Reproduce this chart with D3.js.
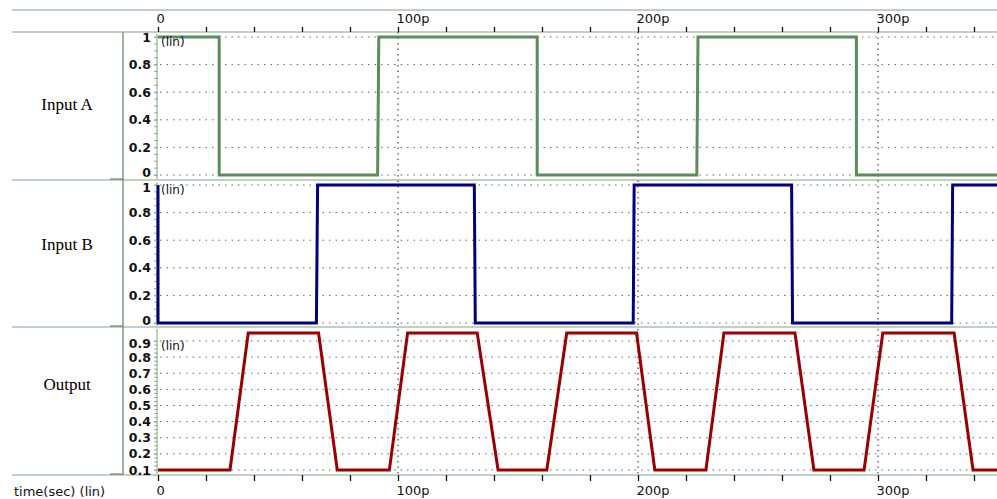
<!DOCTYPE html>
<html>
<head>
<meta charset="utf-8">
<script src="https://cdn.jsdelivr.net/npm/d3@7"></script>
<style>
  body { margin: 0; background: #fff; }
  svg { display: block; }
  .tick text { font-family: "DejaVu Sans", sans-serif; }
</style>
</head>
<body>
<div id="chart"></div>
<script>
// waveform data, time in ps
var inputA = [[0,1],[25.5,1],[25.5,0],[91.5,0],[92,1],[158,1],[158,0],[224.5,0],[225,1],[291,1],[291,0],[350,0]];
var inputB = [[0,1],[0,0],[66,0],[66.5,1],[131.8,1],[132.2,0],[198,0],[198.4,1],[264,1],[264.4,0],[330.7,0],[331.1,1],[350,1]];
var output = [[0,0.1],[30,0.1],[37.6,0.95],[66.9,0.95],[74.7,0.1],[96.4,0.1],[104,0.95],[133,0.95],[141.7,0.1],
              [162,0.1],[170.3,0.95],[199.4,0.95],[207,0.1],[228.3,0.1],[235.8,0.95],[265.4,0.95],[273.3,0.1],
              [294.2,0.1],[302,0.95],[331.7,0.95],[339.6,0.1],[350,0.1]];

var panelNames = ["Input A", "Input B", "Output"];
var ticksAB = [0, 0.2, 0.4, 0.6, 0.8, 1];
var ticksC = [0.1, 0.2, 0.3, 0.4, 0.5, 0.6, 0.7, 0.8, 0.9];
var timeTicks = [0, 100, 200, 300];
var timeLabels = ["0", "100p", "200p", "300p"];

var width = 997, height = 499;
var frame = "#a9c5a9";

var svg = d3.select("#chart").append("svg")
  .attr("width", width)
  .attr("height", height);

var x = d3.scaleLinear().domain([0, 350]).range([158, 998]);

// one entry per panel: data, scale, ticks, colour
var panels = [
  { name: panelNames[0], data: inputA, y: d3.scaleLinear().domain([0, 1]).range([175, 37]), ticks: ticksAB, minor: 0.05, top: 32, bottom: 180, labelY: 105, color: "#5b8c5b", fmt: d3.format("") },
  { name: panelNames[1], data: inputB, y: d3.scaleLinear().domain([0, 1]).range([323, 185]), ticks: ticksAB, minor: 0.05, top: 180, bottom: 327, labelY: 245, color: "#000080", fmt: d3.format("") },
  { name: panelNames[2], data: output, y: d3.scaleLinear().domain([0.1, 0.9]).range([470, 341]), ticks: ticksC, minor: 0.025, top: 327, bottom: 475, labelY: 385, color: "#9b0000", fmt: d3.format(".1f") }
];

// outer frame lines
[10, 32, 180, 327, 475].forEach(function(yy) {
  svg.append("line").attr("x1", 12).attr("x2", width).attr("y1", yy).attr("y2", yy)
    .attr("stroke", frame).attr("stroke-width", 1.5);
});

// vertical time grid
svg.append("g").selectAll("line")
  .data(timeTicks.slice(1))
  .enter().append("line")
  .attr("x1", function(d) { return x(d); })
  .attr("x2", function(d) { return x(d); })
  .attr("y1", 32).attr("y2", 475)
  .attr("stroke", "#222").attr("stroke-width", 1)
  .attr("stroke-dasharray", "1.5,4");

var defs = svg.append("defs");

panels.forEach(function(p, pi) {
  var g = svg.append("g");

  // keep each waveform inside its own plot box
  defs.append("clipPath").attr("id", "clip" + pi)
    .append("rect")
    .attr("x", 156).attr("y", p.top + 1)
    .attr("width", width - 156).attr("height", p.bottom - p.top - 2);

  // label column border
  g.append("line").attr("x1", 123).attr("x2", 123).attr("y1", p.top).attr("y2", p.bottom)
    .attr("stroke", "#7c9a7c").attr("stroke-width", 1.5);
  g.append("line").attr("x1", 110).attr("x2", 123).attr("y1", p.bottom - 1).attr("y2", p.bottom - 1)
    .attr("stroke", "#6f7f6f").attr("stroke-width", 1.2);

  // panel name
  g.append("text")
    .attr("x", 67).attr("y", p.labelY + 5)
    .attr("text-anchor", "middle")
    .attr("font-family", "Liberation Serif, serif")
    .attr("font-size", 17)
    .text(p.name);

  // horizontal grid
  g.append("g").selectAll("line")
    .data(p.ticks)
    .enter().append("line")
    .attr("x1", 160).attr("x2", width)
    .attr("y1", function(d) { return p.y(d); })
    .attr("y2", function(d) { return p.y(d); })
    .attr("stroke", "#666").attr("stroke-width", 1)
    .attr("stroke-dasharray", "1.5,5");

  // y axis line with minor ticks
  var lo = p.y.domain()[0], hi = p.y.domain()[1];
  var minors = d3.range(lo, hi + 1e-9, p.minor);
  g.append("line").attr("x1", 157).attr("x2", 157)
    .attr("y1", p.top + 2).attr("y2", p.bottom - 1)
    .attr("stroke", frame).attr("stroke-width", 1.5);
  g.append("g").selectAll("line")
    .data(minors)
    .enter().append("line")
    .attr("x1", 154).attr("x2", 158)
    .attr("y1", function(d) { return p.y(d); })
    .attr("y2", function(d) { return p.y(d); })
    .attr("stroke", "#8fb08f").attr("stroke-width", 1);

  // waveform
  var line = d3.line()
    .x(function(d) { return x(d[0]); })
    .y(function(d) { return p.y(d[1]); });

  g.append("path")
    .datum(p.data)
    .attr("d", line)
    .attr("clip-path", "url(#clip" + pi + ")")
    .attr("fill", "none")
    .attr("stroke", p.color)
    .attr("stroke-width", 3);

  // "(lin)" unit note
  g.append("text")
    .attr("x", 161).attr("y", p.y(hi) + 9)
    .attr("font-family", "DejaVu Sans, sans-serif")
    .attr("font-size", 12)
    .attr("fill", "#111")
    .text("(lin)");
});

// time axes, major ticks every 100p, minor every 20p
var minorT = d3.range(0, 351, 20);

function styleTimeAxis(sel) {
  sel.select(".domain").remove();
  sel.selectAll(".tick line").attr("stroke", "#111").attr("stroke-width", 1.3);
  sel.selectAll(".tick text").attr("font-size", 13).attr("fill", "#111");
}

var topAxis = svg.append("g")
  .attr("transform", "translate(0,32)")
  .call(d3.axisTop(x).tickValues(minorT).tickSize(5)
    .tickFormat(function(d) { var i = timeTicks.indexOf(d); return i < 0 ? "" : timeLabels[i]; }));
styleTimeAxis(topAxis);
topAxis.selectAll(".tick text").attr("text-anchor", "start").attr("dx", -2).attr("dy", 0).attr("y", -9);

var bottomAxis = svg.append("g")
  .attr("transform", "translate(0,475)")
  .call(d3.axisBottom(x).tickValues(minorT).tickSize(6)
    .tickFormat(function(d) { var i = timeTicks.indexOf(d); return i < 0 ? "" : timeLabels[i]; }));
styleTimeAxis(bottomAxis);
bottomAxis.selectAll(".tick text").attr("text-anchor", "start").attr("dx", -2).attr("y", 11);

svg.append("text")
  .attr("x", 14).attr("y", 496)
  .attr("font-family", "DejaVu Sans, sans-serif")
  .attr("font-size", 13)
  .attr("fill", "#111")
  .text("time(sec) (lin)");

// y axes last, on top of everything else
panels.forEach(function(p, pi) {
  var lo = p.y.domain()[0], hi = p.y.domain()[1];
  var yAxis = svg.append("g")
    .attr("transform", "translate(157,0)")
    .call(d3.axisLeft(p.y).tickValues(p.ticks).tickFormat(p.fmt).tickSize(3).tickPadding(3));
  yAxis.select(".domain").remove();
  yAxis.selectAll(".tick line").attr("stroke", "#8fb08f");
  yAxis.selectAll(".tick text")
    .attr("font-size", 12.5).attr("font-weight", "bold").attr("fill", "#111");
  // keep the end labels of stacked panels apart
  yAxis.selectAll(".tick text")
    .filter(function(d) { return d === lo && pi < 2; })
    .attr("dy", "0.1em");
  yAxis.selectAll(".tick text")
    .filter(function(d) { return d === hi && pi > 0; })
    .attr("dy", "0.5em");
});
</script>
</body>
</html>
